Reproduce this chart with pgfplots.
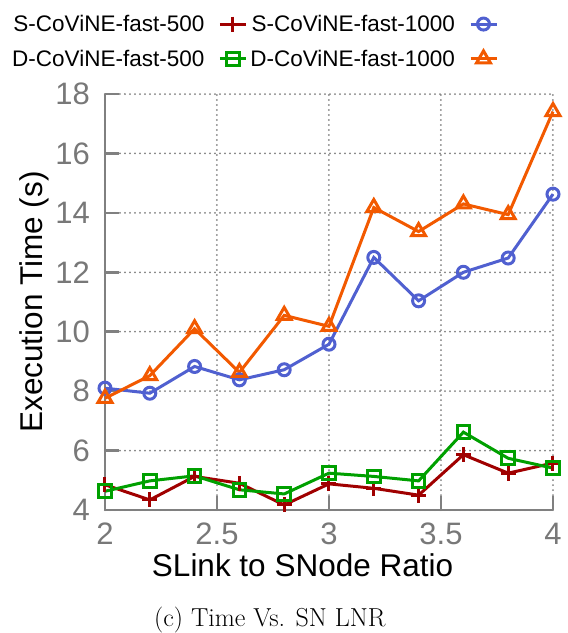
\documentclass[border=0pt]{standalone}
\usepackage{pgfplots}
\pgfplotsset{compat=1.18}
\usepackage{fontspec}
\setmainfont{Liberation Sans}
\newfontfamily\capfont{Latin Modern Roman}

\definecolor{sred}{HTML}{A00000}
\definecolor{sblue}{HTML}{5060D0}
\definecolor{dgreen}{HTML}{00A000}
\definecolor{dorange}{HTML}{F25900}
\definecolor{axgray}{HTML}{808080}
\definecolor{lblgray}{HTML}{787878}

% execution time vs. link-to-node ratio
\pgfplotstableread{
r     s500  s1000  d500  d1000
2.0   4.85  8.10   4.63  7.76
2.2   4.34  7.93   4.98  8.52
2.4   5.13  8.83   5.15  10.10
2.6   4.90  8.38   4.68  8.63
2.8   4.17  8.72   4.54  10.55
3.0   4.88  9.58   5.24  10.18
3.2   4.73  12.50  5.13  14.18
3.4   4.50  11.04  4.98  13.37
3.6   5.86  12.00  6.62  14.30
3.8   5.24  12.48  5.74  13.94
4.0   5.58  14.63  5.41  17.41
}\timetable

\tikzset{series/.style={line width=3pt, mark options={solid, line width=3pt}}}

\begin{document}
\begin{tikzpicture}[x=1pt,y=1pt]
\path[use as bounding box] (-105,-123) rectangle (463,510);
\begin{axis}[
  at={(0,0)}, anchor=south west,
  scale only axis, width=448pt, height=416pt,
  xmin=2, xmax=4, ymin=4, ymax=18,
  xtick={2,2.5,3,3.5,4}, ytick={4,6,...,18},
  axis lines=left,
  axis line style={-, line width=2.7pt, draw=axgray},
  tick align=inside,
  major tick length=14pt,
  tick style={line width=2.5pt, draw=axgray},
  grid=major,
  grid style={line width=2pt, draw=axgray, line cap=round, dash pattern=on 0pt off 5pt},
  /pgf/number format/assume math mode=true,
  ticklabel style={font=\fontsize{31}{31}\selectfont, text=lblgray},
  yticklabel style={inner sep=0pt, anchor=east, xshift=-15pt},
  xticklabel style={inner sep=0pt, anchor=north, yshift=-13pt},
  xlabel={SLink to SNode Ratio},
  ylabel={Execution Time (s)},
  every axis x label/.style={at={(axis description cs:0.441,-0.161)}, anchor=base, font=\fontsize{31.5}{31.5}\selectfont},
  every axis y label/.style={at={(axis description cs:-0.1406,0.5)}, anchor=base, rotate=90, font=\fontsize{31.5}{31.5}\selectfont},
  clip=false,
  legend columns=2,
  legend plot pos=right,
  legend cell align=right,
  legend style={at={(axis description cs:-0.2076,1.19)}, anchor=north west,
    draw=none, fill=none, inner sep=0pt, row sep=17pt,
    font=\fontsize{22.5}{22.5}\selectfont,
    nodes={inner sep=0pt},
    /tikz/every odd column/.append style={column sep=14pt},
    /tikz/every even column/.append style={column sep=3pt}},
  legend image code/.code={%
    \draw[mark repeat=2, mark phase=2] plot coordinates {(0pt,0pt) (13pt,0pt) (26pt,0pt)};},
]
\addplot[series, sred, mark=+, mark size=7.5pt] table[x=r, y=s500] {\timetable};
\addlegendentry{S-CoViNE-fast-500}
\addplot[series, sblue, mark=o, mark size=6pt] table[x=r, y=s1000] {\timetable};
\addlegendentry{S-CoViNE-fast-1000}
\addplot[series, dgreen, mark=square, mark size=6.3pt] table[x=r, y=d500] {\timetable};
\addlegendentry{D-CoViNE-fast-500}
\addplot[series, dorange, mark=triangle, mark size=8pt] table[x=r, y=d1000] {\timetable};
\addlegendentry{D-CoViNE-fast-1000}
\node[anchor=base, font=\capfont\fontsize{26}{26}\selectfont] at (axis description cs:0.368,-0.279) {(c) Time Vs. SN LNR};
\end{axis}
\end{tikzpicture}
\end{document}
